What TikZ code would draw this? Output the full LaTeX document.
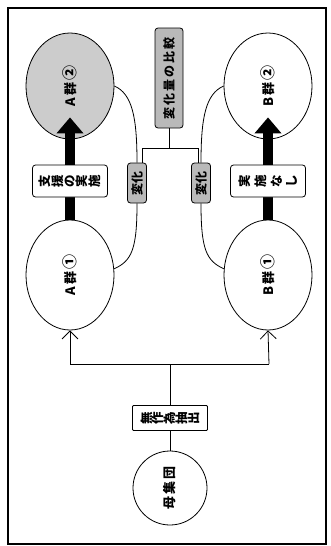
\documentclass[tikz,border=0pt]{standalone}
\usepackage{fontspec}
\newfontfamily\jp{Noto Sans CJK JP}
\usetikzlibrary{shapes.geometric,arrows.meta}
\newcommand\rc[1]{\rotatebox[origin=c]{90}{#1}}
\newcommand\cn[1]{{\fontsize{15}{15}\selectfont #1}}
\begin{document}
\begin{tikzpicture}[x=1pt,y=-1pt,
  grp/.style={ellipse,draw,line width=0.8pt,minimum width=88pt,inner sep=0pt},
  lab/.style={draw,rounded corners=3pt,fill=white,line width=0.8pt,minimum width=75pt,minimum height=32pt,inner sep=0pt,font=\jp\bfseries\fontsize{12.5}{12.5}\selectfont},
  dbox/.style={draw,rounded corners=3pt,fill=gray!55,line width=0.8pt,inner sep=0pt,font=\jp\bfseries\fontsize{12}{12}\selectfont},
  thinl/.style={line width=0.8pt},
  bigarrow/.style={line width=10pt,-{Triangle[width=26pt,length=16pt]}},
  barb/.style={line width=0.8pt,-{Straight Barb[width=16pt,length=8pt,line width=0.8pt]}},
  txt/.style={font=\jp\bfseries\fontsize{13}{13}\selectfont}
]
\useasboundingbox (0,0) rectangle (330,546);
\draw[line width=1.2pt] (8,8) rectangle (326,544);

% group ellipses
\node[grp,fill=gray!40,minimum height=106pt] (A2) at (70,86) {};
\node[grp,fill=white,minimum height=106pt] (B2) at (268,86) {};
\node[grp,fill=white,minimum height=110pt] (A1) at (70,275) {};
\node[grp,fill=white,minimum height=110pt] (B1) at (268,275) {};
\node[txt] (A2t) at (A2) {\rotatebox{90}{A\,群\,\cn{②}}};
\node[txt] (B2t) at (B2) {\rotatebox{90}{B\,群\,\cn{②}}};
\node[txt] (A1t) at (A1) {\rotatebox{90}{A\,群\,\cn{①}}};
\node[txt] (B1t) at (B1) {\rotatebox{90}{B\,群\,\cn{①}}};

% thick arrows
\draw[bigarrow] (A1.north) -- ([yshift=22pt]A2.south);
\draw[bigarrow] (B1.north) -- ([yshift=22pt]B2.south);

% treatment labels
\node[lab] (sA) at (70,181) {\rc{支}\hspace{1pt}\rc{援}\hspace{1pt}\rc{の}\hspace{1pt}\rc{実}\hspace{1pt}\rc{施}};
\node[lab] (sB) at (268,181) {\rc{実}\hspace{4pt}\rc{施}\hspace{4pt}\rc{な}\hspace{4pt}\rc{し}};

% comparison boxes
\node[dbox,minimum width=28pt,minimum height=100pt] (tb) at (169,78) {\rotatebox{90}{変\,化\,量\,の\,比\,較}};
\node[dbox,minimum width=19pt,minimum height=40pt] (sa) at (137,183) {\rotatebox{90}{変化}};
\node[dbox,minimum width=19pt,minimum height=40pt] (sb) at (201,183) {\rotatebox{90}{変化}};

\coordinate (jl) at (142,148);
\coordinate (jr) at (198,148);
\draw[thinl] (tb.south) -- (tb.south |- jl);
\draw[thinl] (sa.north -| jl) -- (jl) -- (jr) -- (sb.north -| jr);

% bracket curves
\draw[thinl] (A2.east) .. controls +(18,8) and +(0,-45) .. (sa.north);
\draw[thinl] (sa.south) .. controls +(0,45) and +(18,-8) .. (A1.8);
\draw[thinl] (B2.west) .. controls +(-18,8) and +(0,-45) .. (sb.north);
\draw[thinl] (sb.south) .. controls +(0,45) and +(-18,-8) .. (B1.172);

% sampling
\node[draw,line width=0.8pt,fill=white,minimum width=75pt,minimum height=25pt,rounded corners=1pt,inner sep=0pt,font=\jp\bfseries\fontsize{12.5}{12.5}\selectfont] (rs) at (170,418) {\rc{無}\rc{作}\rc{為}\rc{抽}\rc{出}};
\node[circle,draw,line width=0.8pt,minimum size=74pt,inner sep=0pt,txt] (pop) at (170,488) {\rotatebox{90}{母\,集\,団}};

\coordinate (hl) at (70,364);
\coordinate (hr) at (269,364);
\draw[thinl] (pop.north) -- (rs.south);
\draw[thinl] (rs.north) -- (rs.north |- hl);
\draw[thinl] (hl) -- (hr);
\draw[barb] (hl) -- (A1.south);
\draw[barb] (hr) -- (B1.south);
\end{tikzpicture}
\end{document}
